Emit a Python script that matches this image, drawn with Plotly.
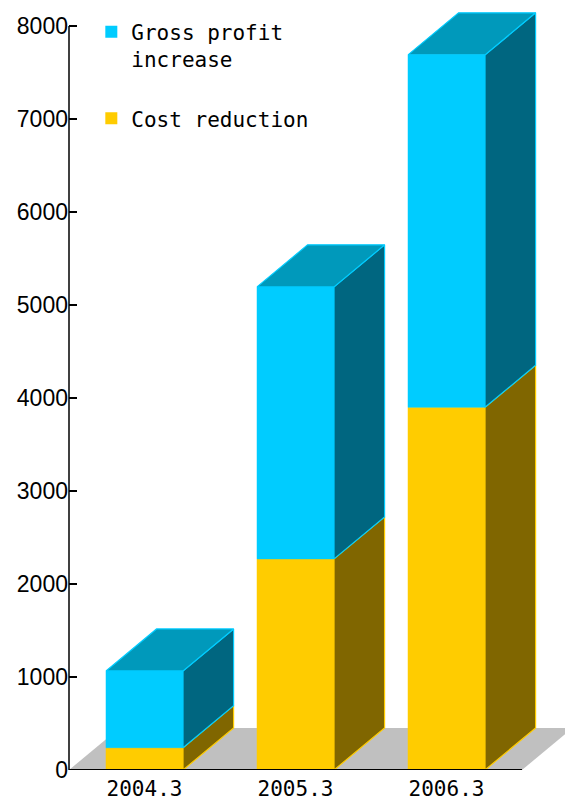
import plotly.graph_objects as go

categories = ["2004.3", "2005.3", "2006.3"]
cost_reduction = [240, 2270, 3900]
gross_profit = [825, 2925, 3790]
y_ticks = [0, 1000, 2000, 3000, 4000, 5000, 6000, 7000, 8000]

# style constants (3D look)
HALF_W = 0.255      # half bar width in category units
DX = 0.335          # depth offset in category units
DY = 452            # depth offset in value units

C_FRONT = "#00CCFF"; C_SIDE = "#006680"; C_TOP = "#0099BB"
G_FRONT = "#FFCC00"; G_SIDE = "#806600"
FLOOR = "#C0C0C0"
FONT = "DejaVu Sans Mono"

fig = go.Figure()

def poly(xs, ys, fill, line, width=1.2):
    fig.add_trace(go.Scatter(x=xs + [xs[0]], y=ys + [ys[0]], mode="lines", fill="toself",
                             fillcolor=fill, line=dict(color=line, width=width),
                             hoverinfo="skip", showlegend=False))

n = len(categories)
# floor
x0f, x1f = -0.5, n - 0.5
poly([x0f, x1f, x1f + DX, x0f + DX], [0, 0, DY, DY], FLOOR, FLOOR, 0)

for i in range(n):
    segs = [(0, cost_reduction[i], G_FRONT, G_SIDE),
            (cost_reduction[i], cost_reduction[i] + gross_profit[i], C_FRONT, C_SIDE)]
    xl, xr = i - HALF_W, i + HALF_W
    for (y0, y1, front, side) in segs:
        poly([xl, xr, xr, xl], [y0, y0, y1, y1], front, front, 0.5)
        poly([xr, xr + DX, xr + DX, xr], [y0, y0 + DY, y1 + DY, y1], side, front, 1.2)
    ytop = cost_reduction[i] + gross_profit[i]
    poly([xl, xr, xr + DX, xl + DX], [ytop, ytop, ytop + DY, ytop + DY], C_TOP, C_FRONT, 1.2)

# legend entries
fig.add_trace(go.Scatter(x=[None], y=[None], mode="markers", name="Gross profit<br>increase",
                         legendgroup="gp",
                         marker=dict(symbol="square", size=16, color=C_FRONT)))
fig.add_trace(go.Scatter(x=[None], y=[None], mode="markers", name="Cost reduction",
                         legendgroup="cr",
                         marker=dict(symbol="square", size=16, color=G_FRONT)))

# axis lines
fig.add_shape(type="line", xref="paper", yref="y", x0=0, x1=0, y0=0, y1=8000,
              line=dict(color="black", width=1.5))
fig.add_shape(type="line", xref="x", yref="y", x0=-0.5, x1=n - 0.5, y0=0, y1=0,
              line=dict(color="black", width=2))

fig.update_layout(
    width=565, height=802,
    margin=dict(l=69, r=0, t=0, b=32),
    plot_bgcolor="white", paper_bgcolor="white",
    font=dict(family=FONT, size=21, color="black"),
    legend=dict(x=0.045, y=0.985, xanchor="left", yanchor="top", bgcolor="rgba(0,0,0,0)",
                valign="top", font=dict(family=FONT, size=21), tracegroupgap=29,
                itemsizing="constant"),
    xaxis=dict(range=[-0.5, -0.5 + 496 / 151], tickvals=list(range(n)), ticktext=categories,
               showgrid=False, zeroline=False, showline=False, ticks="",
               ticklabelstandoff=4, automargin=False,
               tickfont=dict(family=FONT, size=21)),
    yaxis=dict(range=[0, 8280], tickvals=y_ticks, ticks="inside", ticklen=8, tickwidth=1.5,
               tickcolor="black", showgrid=False, zeroline=False, showline=False,
               automargin=False,
               tickfont=dict(family="Liberation Sans", size=23)),
)

fig.write_html("out.html")
